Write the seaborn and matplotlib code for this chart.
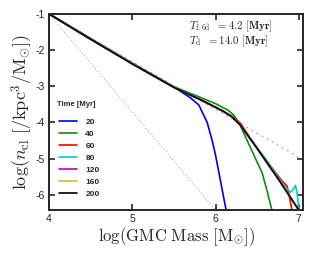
import numpy as np
import pandas as pd
import matplotlib
matplotlib.use("Agg")
import matplotlib.pyplot as plt
import seaborn as sns

sns.set_style("ticks")
plt.rcParams['font.family'] = ['Liberation Sans', 'DejaVu Sans']
plt.rcParams['mathtext.fontset'] = 'cm'
plt.rcParams['axes.unicode_minus'] = False

# mass function curves, log(M) vs log(n_cl)
x_200 = [4.0, 4.5, 5.0, 5.5, 5.8, 6.0, 6.1, 6.2, 6.3, 6.5, 6.75, 7.0]
y_200 = [-1.0, -1.70, -2.38, -3.03, -3.35, -3.58, -3.70, -3.85, -4.08, -4.72, -5.55, -6.42]

x_20 = [4.0, 4.5, 5.0, 5.5, 5.6, 5.7, 5.8, 5.9, 5.96, 6.0, 6.05, 6.1, 6.13]
y_20 = [-0.99, -1.68, -2.36, -3.02, -3.17, -3.32, -3.52, -4.0, -4.5, -4.9, -5.5, -6.1, -6.45]

x_40 = [4.0, 4.5, 5.0, 5.5, 5.8, 6.0, 6.15, 6.22, 6.28, 6.35, 6.45, 6.56, 6.62, 6.68]
y_40 = [-1.0, -1.69, -2.37, -3.01, -3.29, -3.48, -3.66, -3.80, -4.0, -4.35, -4.85, -5.39, -5.9, -6.45]

x_60 = [4.0, 4.5, 5.0, 5.5, 5.8, 6.0, 6.2, 6.3, 6.42, 6.6, 6.8, 6.86, 6.9, 6.92]
y_60 = [-1.0, -1.70, -2.38, -3.03, -3.35, -3.58, -3.83, -4.02, -4.44, -5.02, -5.62, -5.76, -6.2, -6.45]

x_80 = [4.0, 4.5, 5.0, 5.3, 5.5, 5.8, 6.0, 6.2, 6.3, 6.5, 6.6, 6.8, 6.9, 6.93, 6.96, 6.98, 7.0]
y_80 = [-1.0, -1.69, -2.36, -2.76, -3.02, -3.34, -3.57, -3.84, -4.06, -4.70, -5.0, -5.68, -5.93, -5.86, -5.74, -5.95, -6.4]

times = ['20', '40', '60', '80', '120', '160', '200']
curves = {
    '20': (x_20, y_20),
    '40': (x_40, y_40),
    '60': (x_60, y_60),
    '80': (x_80, y_80),
    '120': (x_200, y_200),
    '160': (x_200, y_200),
    '200': (x_200, y_200),
}
colors = ['#0000ee', '#108a10', '#ff0000', '#00cccc', '#c000c0', '#c8c030', '#000000']

# power-law reference lines
ref_x = [4.0, 7.0]
ref_steep = [-1.0, -9.13]
ref_shallow = [-1.0, -4.96]

fig = plt.figure(figsize=(3.12, 2.58), dpi=100)
ax = fig.add_axes([0.157, 0.186, 0.814, 0.760])

ax.plot(ref_x, ref_steep, color='#999999', linestyle=(0, (1, 2.5)), linewidth=0.7)
ax.plot(ref_x, ref_shallow, color='#999999', linestyle=(0, (2, 4)), linewidth=0.7)

for t, c in zip(times, colors):
    xs, ys = curves[t]
    df = pd.DataFrame({'x': xs, 'y': ys})
    sns.lineplot(data=df, x='x', y='y', color=c, linewidth=1.2, label=t,
                 sort=False, estimator=None, ax=ax)

ax.set_xlim(4.0, 7.05)
ax.set_ylim(-6.42, -1.0)
ax.set_xticks([4, 5, 6, 7])
ax.set_xticklabels(['4', '5', '6', '7'])
ax.set_yticks([-1, -2, -3, -4, -5, -6])
ax.set_yticklabels(['-1', '-2', '-3', '-4', '-5', '-6'])
ax.tick_params(direction='in', length=4, width=1.2, labelsize=7.5,
               top=True, right=True, pad=3)
for s in ax.spines.values():
    s.set_linewidth(1.4)

ax.set_xlabel(r'$\log(\mathrm{GMC\ Mass\ [M_{\odot}]})$', fontsize=12, labelpad=1)
ax.set_ylabel(r'$\log(n_{\rm cl}\ [/\mathrm{kpc}^3/\mathrm{M}_{\odot}])$', fontsize=13, labelpad=0)

note = (r'$T_{\rm f,6d}\ \ = \mathbf{4.2}\ [\mathbf{Myr}]$' + '\n' +
        r'$T_{\rm d}\ \ = \mathbf{14.0}\ [\mathbf{Myr}]$')
ax.text(0.553, 0.898, note, transform=ax.transAxes, fontsize=7.8,
        va='center', ha='left', linespacing=0.95)

leg = ax.legend(loc='lower left', bbox_to_anchor=(0.015, 0.03),
                frameon=False, fontsize=6,
                handlelength=2.2, labelspacing=0.5, handletextpad=1.0,
                borderaxespad=0.3)
for txt in leg.get_texts():
    txt.set_fontweight('bold')
ax.text(0.031, 0.536, 'Time [Myr]', transform=ax.transAxes, fontsize=5.5,
        fontweight='bold', va='center', ha='left')

fig.savefig('out.png', dpi=100)
